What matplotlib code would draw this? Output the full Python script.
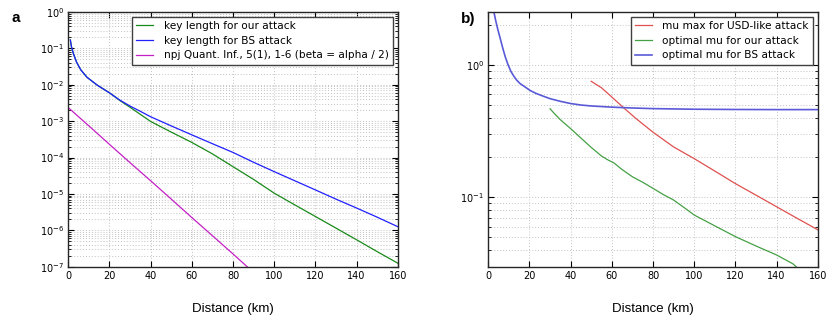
import matplotlib
matplotlib.use("Agg")
import matplotlib.pyplot as plt
from matplotlib.ticker import LogLocator, NullFormatter, FixedLocator

# ---------------- data ----------------
dist_bs_a = [1, 1.5, 2.5, 4, 6, 9, 14, 20, 25, 30, 35, 40, 50, 60, 70, 80,
             90, 100, 110, 120, 130, 140, 150, 160]
key_bs = [0.17, 0.112, 0.071, 0.042, 0.026, 0.0162, 0.0098, 0.006, 0.0038,
          0.0026, 0.00186, 0.00132, 7.4e-4, 4.2e-4, 2.4e-4, 1.38e-4, 7.4e-5,
          4.1e-5, 2.3e-5, 1.29e-5, 7.2e-6, 4.1e-6, 2.3e-6, 1.26e-6]

dist_our_a = [1, 1.5, 2.5, 4, 6, 9, 14, 20, 25, 30, 40, 50, 60, 70, 80, 90,
              100, 110, 120, 130, 140, 150, 160]
key_our = [0.17, 0.112, 0.071, 0.042, 0.026, 0.0162, 0.0098, 0.006, 0.0037,
           0.0024, 9.8e-4, 5.0e-4, 2.6e-4, 1.26e-4, 5.6e-5, 2.5e-5, 1.05e-5,
           5.0e-6, 2.4e-6, 1.15e-6, 5.5e-7, 2.6e-7, 1.25e-7]

dist_npj = [0, 10, 20, 30, 40, 50, 60, 70, 80, 90]
key_npj = [2.35e-3, 7.4e-4, 2.3e-4, 7.2e-5, 2.3e-5, 7.2e-6, 2.24e-6, 7.1e-7,
           2.24e-7, 6.9e-8]

dist_mu_bs = [2.6, 2.8, 3.5, 4.5, 5.7, 7, 8.3, 9.6, 11, 12.4, 13.8, 15.5,
              17.5, 20.3, 23, 26, 30, 35, 40, 45, 50, 60, 70, 80, 100, 120,
              140, 160]
mu_bs = [2.6, 2.47, 2.19, 1.88, 1.6, 1.34, 1.14, 1.0, 0.89, 0.82, 0.765,
         0.72, 0.686, 0.64, 0.61, 0.585, 0.555, 0.53, 0.51, 0.497, 0.489,
         0.479, 0.472, 0.467, 0.462, 0.46, 0.459, 0.459]

dist_mu_max = [50, 55, 59, 62, 66, 72, 80, 90, 100, 110, 120, 130, 140, 150, 160]
mu_max = [0.75, 0.67, 0.59, 0.535, 0.47, 0.39, 0.31, 0.24, 0.196, 0.158,
          0.127, 0.104, 0.085, 0.0695, 0.057]

dist_mu_our = [30, 32, 35, 40, 45, 50, 55, 58, 61, 65, 70, 75, 80, 85, 90, 95,
               100, 110, 120, 130, 140, 148, 150]
mu_our = [0.466, 0.43, 0.385, 0.33, 0.28, 0.238, 0.205, 0.192, 0.182, 0.162,
          0.143, 0.13, 0.117, 0.105, 0.0955, 0.084, 0.0736, 0.061, 0.0506,
          0.043, 0.0368, 0.0315, 0.0295]

x_ticks = [0, 20, 40, 60, 80, 100, 120, 140, 160]

# ---------------- figure ----------------
fig = plt.figure(figsize=(8.3, 3.26), dpi=100)
axA = fig.add_axes([0.0823, 0.1819, 0.3969, 0.7813])
axB = fig.add_axes([0.5883, 0.1819, 0.3969, 0.7813])

lab_font = ['Liberation Sans', 'DejaVu Sans']


def style(ax):
    ax.set_yscale('log')
    ax.set_xlim(0, 160)
    ax.xaxis.set_major_locator(FixedLocator(x_ticks))
    ax.tick_params(which='both', direction='in', top=True, right=True,
                   labelsize=7, colors='black')
    ax.tick_params(which='major', length=4, width=0.8, pad=3)
    ax.tick_params(which='minor', length=2, width=0.6)
    ax.grid(True, which='major', axis='both', color='0.76', linestyle=(0, (1, 2)),
            linewidth=0.7)
    ax.grid(True, which='minor', axis='y', color='0.76', linestyle=(0, (1, 2)),
            linewidth=0.7)
    for s in ax.spines.values():
        s.set_color('0.15')
        s.set_linewidth(1.0)
    ax.set_xlabel('Distance (km)', family=lab_font, fontsize=9.5, labelpad=16)


# ---- panel a ----
axA.plot(dist_our_a, key_our, color='#1a8a1a', lw=0.9,
         label='key length for our attack')
axA.plot(dist_bs_a, key_bs, color='#2020ff', lw=0.9,
         label='key length for BS attack')
axA.plot(dist_npj, key_npj, color='#c520c5', lw=0.9,
         label='npj Quant. Inf., 5(1), 1-6 (beta = alpha / 2)')
style(axA)
axA.set_ylim(1e-7, 1)
axA.yaxis.set_major_locator(LogLocator(base=10, numticks=20))
axA.yaxis.set_minor_locator(LogLocator(base=10, subs=range(2, 10), numticks=20))
axA.yaxis.set_minor_formatter(NullFormatter())
legA = axA.legend(loc='upper right', fontsize=7.6, fancybox=False,
                  framealpha=1, edgecolor='0.25', borderaxespad=0.45,
                  handlelength=1.6, handletextpad=1.0, labelspacing=0.45)
legA.get_frame().set_linewidth(1.0)

# ---- panel b ----
axB.plot(dist_mu_max, mu_max, color='#e05050', lw=0.9,
         label='mu max for USD-like attack')
axB.plot(dist_mu_our, mu_our, color='#45a045', lw=0.9,
         label='optimal mu for our attack')
axB.plot(dist_mu_bs, mu_bs, color='#5a5ad8', lw=1.2,
         label='optimal mu for BS attack')
style(axB)
axB.set_ylim(0.03, 2.5)
axB.yaxis.set_major_locator(LogLocator(base=10, numticks=20))
axB.yaxis.set_minor_locator(LogLocator(base=10, subs=range(2, 10), numticks=20))
axB.yaxis.set_minor_formatter(NullFormatter())
legB = axB.legend(loc='upper right', fontsize=7.6, fancybox=False,
                  framealpha=1, edgecolor='0.25', borderaxespad=0.45,
                  handlelength=1.6, handletextpad=1.0, labelspacing=0.45)
legB.get_frame().set_linewidth(1.0)

# panel labels
fig.text(11 / 830, 1 - 18.5 / 326, 'a', family=lab_font, fontsize=11,
         fontweight='bold', ha='left', va='center')
fig.text(461 / 830, 1 - 18.5 / 326, 'b)', family=lab_font, fontsize=11,
         fontweight='bold', ha='left', va='center')

fig.savefig('out.png', dpi=100)
